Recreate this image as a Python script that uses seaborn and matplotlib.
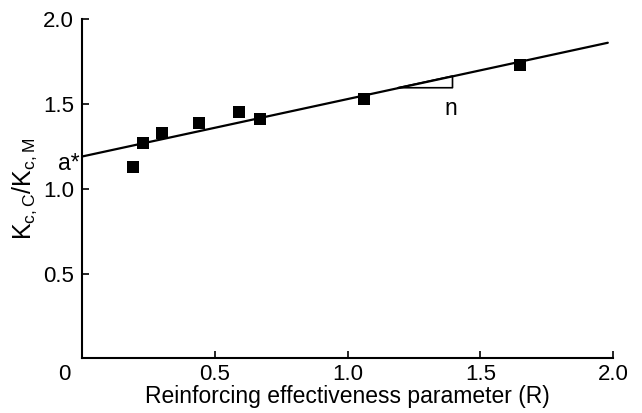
import matplotlib
matplotlib.use("Agg")
import matplotlib.pyplot as plt
import seaborn as sns
import pandas as pd

# measured points
r_vals = [0.19, 0.23, 0.30, 0.44, 0.59, 0.67, 1.06, 1.65]
k_ratio = [1.13, 1.27, 1.33, 1.39, 1.45, 1.41, 1.53, 1.73]

# fitted line
line_r = [0.0, 1.98]
line_k = [1.19, 1.86]

# slope triangle (n)
tri_r = [1.19, 1.395, 1.395]
tri_k = [1.595, 1.595, 1.664]

xticks = [0.5, 1.0, 1.5, 2.0]
yticks = [0.5, 1.0, 1.5, 2.0]

sns.set_style("ticks")
plt.rcParams['font.family'] = ['Liberation Sans', 'DejaVu Sans']
plt.rcParams['mathtext.fontset'] = 'custom'
plt.rcParams['mathtext.rm'] = 'Liberation Sans'
plt.rcParams['mathtext.it'] = 'Liberation Sans'
plt.rcParams['text.color'] = 'black'
plt.rcParams['axes.labelcolor'] = 'black'
plt.rcParams['xtick.color'] = 'black'
plt.rcParams['ytick.color'] = 'black'

df = pd.DataFrame({'R': r_vals, 'K': k_ratio})
df_line = pd.DataFrame({'R': line_r, 'K': line_k})

fig = plt.figure(figsize=(6.42, 4.13), dpi=100)
ax = fig.add_axes([0.128, 0.132, 0.827, 0.822])

sns.lineplot(data=df_line, x='R', y='K', color='black', linewidth=1.6, ax=ax)
ax.plot(tri_r + [tri_r[0]], tri_k + [tri_k[0]], color='black', linewidth=1.2)
sns.scatterplot(data=df, x='R', y='K', marker='s', s=65, color='black',
                linewidth=0, ax=ax, zorder=3)

ax.set_xlim(0, 2.0)
ax.set_ylim(0, 2.0)
ax.set_xticks(xticks)
ax.set_yticks(yticks)
ax.set_xticklabels(['0.5', '1.0', '1.5', '2.0'])
ax.set_yticklabels(['0.5', '1.0', '1.5', '2.0'])
ax.tick_params(direction='in', length=5, width=1.2, labelsize=16, colors='black')
ax.tick_params(axis='x', pad=4)
ax.tick_params(axis='y', pad=6)
sns.despine(ax=ax)
for s in ['left', 'bottom']:
    ax.spines[s].set_linewidth(1.5)
    ax.spines[s].set_color('black')

ax.text(-0.045, -0.03, '0', fontsize=16, ha='right', va='top')
ax.text(-0.008, 1.15, 'a*', fontsize=16.5, ha='right', va='center')
ax.text(1.39, 1.47, 'n', fontsize=16.5, ha='center', va='center')

ax.set_xlabel('Reinforcing effectiveness parameter (R)', fontsize=16.5, labelpad=0)
ax.set_ylabel(r'$\mathregular{K_{c,C}/K_{c,M}}$', fontsize=18, labelpad=3)

fig.savefig('out.png', dpi=100)
